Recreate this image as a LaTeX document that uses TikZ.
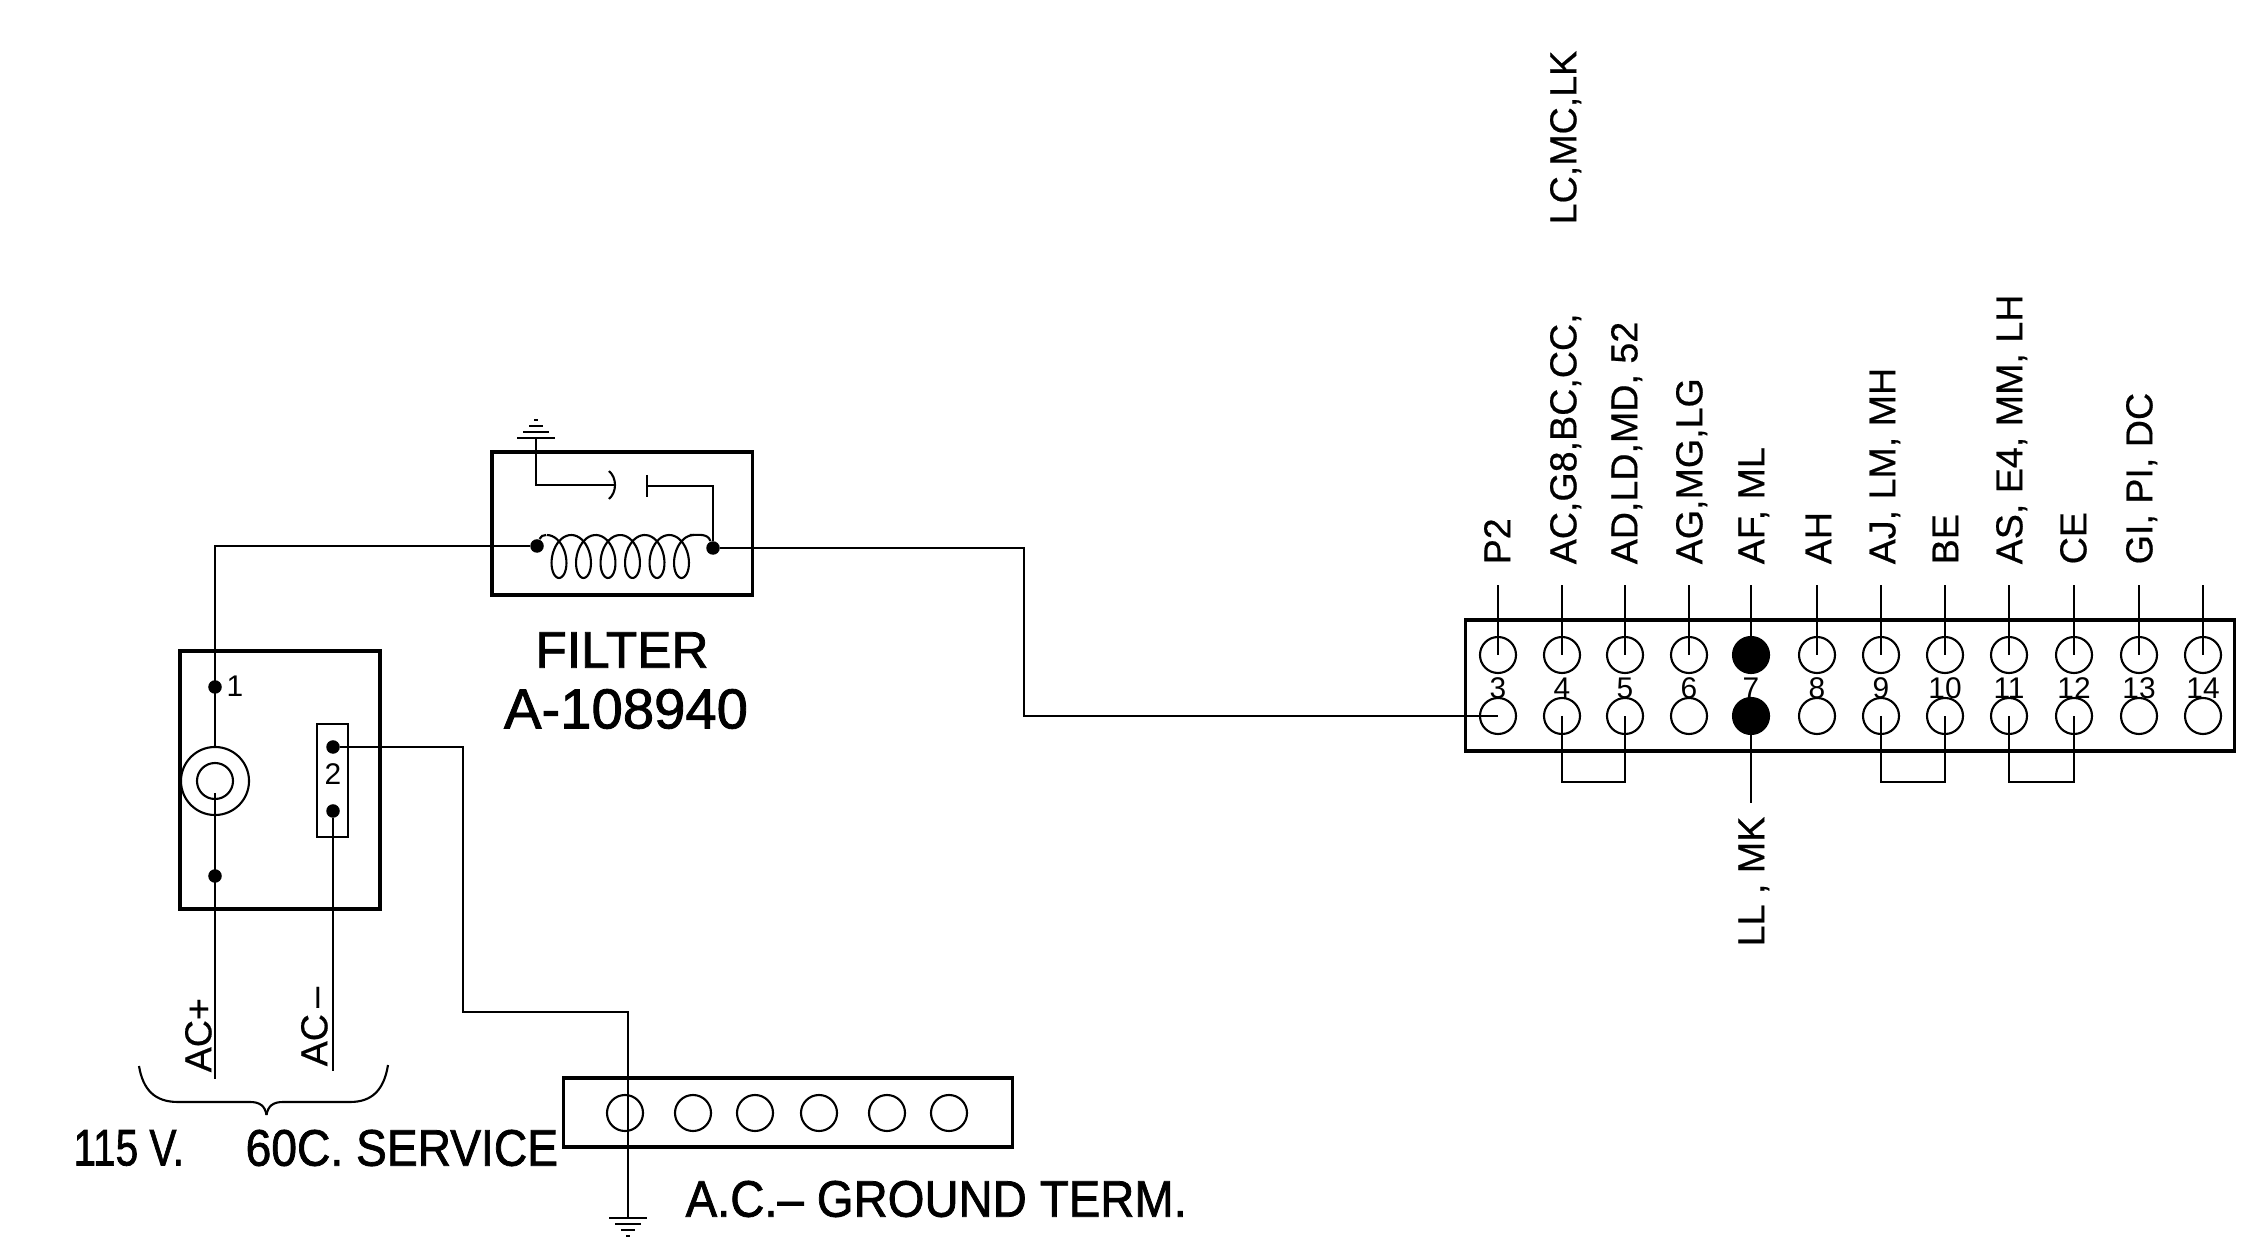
\documentclass[tikz,border=0pt]{standalone}
\usepackage{fontspec}
\setmainfont{Liberation Sans}
\newfontfamily\lettering[FakeBold=1.5]{Liberation Sans}
\newfontfamily\lblfont[FakeBold=0.5]{Liberation Sans}
\usetikzlibrary{positioning}
\tikzset{wire/.style={line width=0.6pt}}
\tikzset{frame/.style={draw,line width=0.9pt}}
\tikzset{pin/.style={draw,circle,line width=0.6pt,minimum size=3.6mm,inner sep=0pt}}
\tikzset{pinfull/.style={pin,fill=black}}
\tikzset{dot/.style={circle,fill=black,minimum size=1.35mm,inner sep=0pt}}
\tikzset{lbl/.style={rotate=90,anchor=west,inner sep=0pt,text height=7.6pt,text depth=0pt,font=\lblfont\fontsize{10.7}{12}\selectfont}}
\tikzset{num/.style={inner sep=0pt,font=\fontsize{8.5}{10}\selectfont}}
\tikzset{title/.style={inner sep=0pt,font=\lettering\fontsize{14.6}{16}\selectfont}}
\tikzset{gnd/.pic={
  \foreach \w/\d in {19/0,13/6,7/12,2/18} \draw[wire] (-\w,\d) -- (\w,\d);
}}
\begin{document}
\begin{tikzpicture}[x=0.01cm,y=-0.01cm]
        \useasboundingbox (0,0) rectangle (2242,1240);

        \node[frame,minimum width=7.68cm,minimum height=1.31cm,inner sep=0pt] (conn) at (1850,685.5) {};
        \coordinate (leadtop) at (0,585);
        \coordinate (bridge) at (0,782);
        \foreach \n/\x/\s in {3/1498/pin,4/1562/pin,5/1625/pin,6/1689/pin,7/1751/pinfull,8/1817/pin,9/1881/pin,10/1945/pin,11/2009/pin,12/2074/pin,13/2139/pin,14/2203/pin}{
          \node[\s] (pinT\n) at (\x,655) {};
          \node[\s] (pinB\n) at (\x,716) {};
          \node[num] (num\n) at (\x,688) {\n};
          \draw[wire] (pinT\n.center) -- (pinT\n.center |- leadtop);
        }
        \draw[wire] (pinB4.center) -- (pinB4.center |- bridge) -| (pinB5.center);
        \draw[wire] (pinB9.center) -- (pinB9.center |- bridge) -| (pinB10.center);
        \draw[wire] (pinB11.center) -- (pinB11.center |- bridge) -| (pinB12.center);
        \coordinate (pin7end) at (1751,803);
        \draw[wire] (pinB7) -- (pin7end);

        \node[lbl] (lblP2) at (1497,565) {P2};
        \node[lbl] (lblAC) at (1563,565) {AC,G8,BC,CC,};
        \node[lbl] (lblLC) at (1563,225) {LC,MC,LK};
        \node[lbl] (lblAD) at (1624,565) {AD,LD,MD, 52};
        \node[lbl] (lblAG) at (1689,565) {AG,MG,LG};
        \node[lbl] (lblAF) at (1751,565) {AF, ML};
        \node[lbl] (lblAH) at (1818,565) {AH};
        \node[lbl] (lblAJ) at (1882,565) {AJ, LM, MH};
        \node[lbl] (lblBE) at (1945,565) {BE};
        \node[lbl] (lblAS) at (2009,565) {AS, E4, MM, LH};
        \node[lbl] (lblCE) at (2073,565) {CE};
        \node[lbl] (lblGI) at (2139,565) {GI, PI, DC};
        \node[lbl] (lblLL) at (1751,947) {LL , MK};

        \node[frame,minimum width=2.6cm,minimum height=1.43cm,inner sep=0pt] (filter) at (622,523.5) {};
        \node[dot] (coilL) at (537,546) {};
        \node[dot] (coilR) at (713,548) {};
        \coordinate (coilA) at (546,535);
        \coordinate (coilB) at (690,535);
        \draw[wire] (coilL) to[out=70,in=180] (coilA);
        \draw[wire] plot[domain=-180:1980,samples=240] ({559+\x/360*24.5-13*sin(\x)},{556.5+21.5*cos(\x)});
        \draw[wire] (coilB) to[out=0,in=110] (coilR);
        \coordinate (gndT) at (536,438);
        \coordinate (capA) at (616,485);
        \coordinate (capB) at (647,486);
        \pic[yscale=-1] (gndtop) at (gndT) {gnd};
        \draw[wire] (gndT) |- (capA);
        \draw[wire] (609,471) .. controls (617,478) and (617,492) .. (609,499);
        \draw[wire] (647,475) -- (647,497);
        \draw[wire] (capB) -| (coilR);
        \node[title] (fname) at (622,650) {FILTER};
        \node[title,font=\lettering\fontsize{16}{18}\selectfont] (fnum) at (626,709) {A-108940};

        \coordinate (jog) at (1024,716);
        \draw[wire] (coilR) -| (jog) -- (pinB3.center);

        \node[frame,minimum width=2cm,minimum height=2.58cm,inner sep=0pt] (plug) at (280,780) {};
        \node[draw,circle,wire,minimum size=6.8mm,inner sep=0pt] (ring) at (215,781) {};
        \node[draw,circle,wire,minimum size=3.6mm,inner sep=0pt] (ringin) at (215,781) {};
        \node[dot] (plugA) at (215,687) {};
        \node[dot] (plugB) at (215,876) {};
        \node[num] (num1) at (235,686) {1};
        \node[draw,line width=0.7pt,minimum width=0.31cm,minimum height=1.13cm,inner sep=0pt] (sock) at (332.5,780.5) {};
        \node[dot] (sockT) at (333,747) {};
        \node[dot] (sockB) at (333,811) {};
        \node[num] (num2) at (333,774) {2};
        \coordinate (ringtap) at (215,793);
        \coordinate (acplus) at (215,1079);
        \coordinate (acminus) at (333,1071);
        \draw[wire] (ring.north) |- (coilL);
        \draw[wire] (ringtap) -- (acplus);
        \draw[wire] (sockB) -- (acminus);
        \node[lbl] (lblplus) at (198,1073) {AC+};
        \node[lbl] (lblminus) at (314,1067) {AC\,–};

        \coordinate (gndA) at (463,1012);
        \coordinate (gndB) at (628,1218);
        \draw[wire] (sockT) -| (gndA) -| (gndB);
        \pic (gndbot) at (gndB) {gnd};

        \node[frame,minimum width=4.485cm,minimum height=0.69cm,inner sep=0pt] (term) at (788,1112.5) {};
        \foreach \n/\x in {1/625,2/693,3/755,4/819,5/887,6/949}
          \node[pin] (term\n) at (\x,1113) {};

        \draw[wire] (139,1066) .. controls (143,1090) and (155,1102) .. (178,1102) -- (250,1102) .. controls (260,1102) and (265,1106) .. (266.5,1115);
        \draw[wire] (388,1065) .. controls (384,1090) and (372,1102) .. (350,1102) -- (283,1102) .. controls (273,1102) and (268,1106) .. (266.5,1115);

        \node[title,anchor=west,xscale=.79,transform shape] (volts) at (73,1148) {115 V.};
        \node[title,anchor=west,xscale=.9,transform shape] (serv) at (245,1148) {60C. SERVICE};
        \node[title,anchor=west,xscale=.92,transform shape] (gtitle) at (685,1199) {A.C.– GROUND TERM.};
\end{tikzpicture}
\end{document}
